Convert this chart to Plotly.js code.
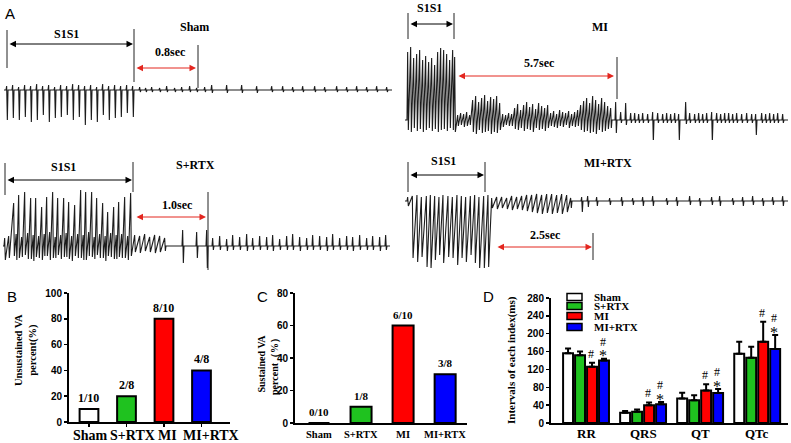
<!DOCTYPE html>
<html><head><meta charset="utf-8">
<script src="https://cdn.plot.ly/plotly-3.0.1.min.js"></script>
<style>html,body{margin:0;padding:0;background:#fff;}#chart{width:791px;height:443px;}</style>
</head><body><div id="chart"></div>
<script>
// ---------------- data ----------------
const groups = ['Sham', 'S+RTX', 'MI', 'MI+RTX'];
const unsustainedPct = [10, 20, 80, 40];
const unsustainedLabel = ['1/10', '2/8', '8/10', '4/8'];
const sustainedPct = [0, 10, 60, 30];
const sustainedLabel = ['0/10', '1/8', '6/10', '3/8'];

const indices = ['RR', 'QRS', 'QT', 'QTc'];
const shamMean = [156, 23, 55, 155];
const shamErr = [11, 4, 13, 27];
const srtxMean = [152, 25, 51, 146];
const srtxErr = [8, 5, 11, 25];
const miMean = [126, 40, 73, 182];
const miErr = [9, 6, 14, 45];
const mirtxMean = [140, 42, 67, 166];
const mirtxErr = [4, 5, 9, 31];

// ECG beats: position along trace, upward and downward deflection
const shamT = [7,13,19,25,31,37,43,49,55,61,67,73,79,85,91,97,103,109,115,121,127,133,
  140,146,152,160,167,175,182,190,197,205,212,227,242,257,272,283,293,303,315,325,337,347,357,367,377,387];
const shamUp = [4,5,3,5,4,6,4,5,3,5,4,6,5,4,5,3,6,4,5,4,5,4,
  3,2,3,2,4,2,3,4,2,3,5,5,5,4,4,4,3,4,4,3,4,3,4,3,4,3];
const shamDown = [30,28,30,27,32,30,25,32,28,27,25,30,27,35,30,32,25,30,28,27,23,27,
  2,2,2,2,2,2,2,2,2,2,3,3,3,3,2,2,2,2,2,2,2,2,2,2,2,2];

const miT = [8,11,14,17,20,23,26,29,32,35,38,41,44,47,50,53,55,
  58,61,64,67,70,73,76,79,82,85,88,91,94,97,100,103,106,109,112,115,118,121,124,127,130,133,136,139,142,145,148,
  151,154,157,160,163,166,169,172,175,178,181,184,187,190,193,196,199,202,205,208,211,
  216,221,226,231,235,239,243,248,253,258,263,267,271,275,279,286,290,295,299,303,307,312,317,321,325,329,333,337,342,347,352,356,362,366,370,374,378,383];
const miUp = [68,73,62,66,70,60,64,58,62,55,68,72,70,66,60,70,63,
  5,7,6,8,5,20,24,18,22,25,19,23,21,24,17,6,5,7,6,12,16,10,15,18,13,16,11,17,14,12,15,
  7,9,6,10,8,7,9,6,8,10,15,19,22,17,24,20,16,22,18,14,12,
  18,8,17,7,7,6,7,6,8,7,6,7,6,7,6,18,7,6,7,6,7,8,7,6,7,7,6,7,6,7,6,6,7,6,7,6,7,6];
const miDown = [10,12,8,11,9,12,10,8,11,9,12,10,9,11,8,10,12,
  6,5,7,6,5,12,14,10,13,12,11,14,12,13,10,7,5,6,6,9,10,8,11,9,10,12,8,10,9,11,8,
  6,7,8,6,7,5,8,6,7,6,10,12,11,13,12,14,10,12,11,9,8,
  13,3,5,3,3,3,3,3,22,3,3,3,3,3,20,4,3,3,3,3,3,22,3,3,3,3,3,3,3,3,3,15,3,3,3,3,3,3];

const srtxT = [5,14,19,25,31,36,42,47,53,58,64,69,75,81,86,92,97,103,108,114,119,125,131,
  135,140,145,150,155,160,165,183,197,207,
  213,220,227,233,240,247,253,260,267,273,280,287,293,300,307,313,320,327,333,340,347,353,360,367,373,380,386];
const srtxUp = [8,43,51,54,48,48,39,49,54,48,48,44,41,56,54,54,48,43,34,39,44,49,53,
  11,10,12,9,11,10,8,16,14,16,
  8,10,7,11,9,12,8,10,9,11,7,10,12,9,8,11,10,9,12,8,10,9,11,8,10,9,11];
const srtxDown = [14,10,12,9,13,11,14,10,12,9,11,13,10,12,14,11,9,12,10,13,11,12,10,
  6,7,5,6,7,6,5,17,12,22,
  4,4,5,4,4,5,4,4,4,5,4,4,4,5,4,4,4,5,4,4,4,5,4,4,4,5,4];
// slow waves between the paced S+RTX spikes
const srtxWaveT = [9,16.5,22,28,33.5,39,44.5,50,55.5,61,66.5,72,78,83.5,89,94.5,100,105.5,111,116.5,122,128];
const srtxWaveUp = [10,12,9,13,11,10,12,14,9,11,13,10,12,11,14,9,12,10,13,11,12,10];
const srtxWaveDown = [12,14,11,13,15,12,10,14,12,13,11,15,12,14,10,13,12,15,11,13,12,14];

const mirtxT = [8,12.7,17.3,21.7,26.7,30.7,35,39.3,43.3,48.3,52.7,57.3,61.7,66,70.7,75,79.3,84,88.3,
  92,97,102,107,112,117,122,127,132,137,142,147,152,157,162,167,171,
  182,188,197,210,222,233,243,253,267,277,290,300,312,320,333,343,353,363,373,383];
const mirtxUp = [4,5,6,4,5,6,5,4,6,5,4,6,5,4,5,6,4,5,6,
  3,4,4,3,5,4,5,6,6,7,6,7,7,6,7,6,3,
  4,5,4,3,4,3,4,5,3,4,5,3,4,5,3,4,5,3,4,5];
const mirtxDown = [5,57,61,56,66,67,59,54,62,56,57,64,57,61,54,62,67,67,66,
  7,8,7,8,9,8,9,10,11,12,13,12,13,12,13,11,7,
  11,6,5,4,5,4,5,5,4,5,4,5,4,5,4,5,4,5,4,5];

// ---------------- helpers ----------------
const W = 791, H = 443;
const X = p => p / W;
const Y = p => 1 - p / H;
const serifB = 'Liberation Serif';
const sansF = 'Liberation Sans';

// sets: list of [t, up, down]; beats closer than `joinGap` are joined as a continuous zig-zag
function ecgTrace(sets, start, end, joinGap, xa, ya) {
  const beats = [];
  sets.forEach(s => {
    const n = Math.min(s[0].length, s[1].length, s[2].length);
    for (let i = 0; i < n; i++) beats.push([s[0][i], s[1][i], s[2][i]]);
  });
  beats.sort((a, b) => a[0] - b[0]);
  const xs = [start], ys = [0];
  for (let i = 0; i < beats.length; i++) {
    const [t, u, d] = beats[i];
    const prevGap = i > 0 ? t - beats[i - 1][0] : 99;
    const nextGap = i < beats.length - 1 ? beats[i + 1][0] - t : 99;
    if (prevGap >= joinGap) { xs.push(t - 1); ys.push(0); }
    xs.push(t - 0.35, t + 0.35); ys.push(u, -d);
    if (nextGap >= joinGap) { xs.push(t + 1); ys.push(0); }
  }
  xs.push(end); ys.push(0);
  return {type: 'scatter', mode: 'lines', x: xs, y: ys, xaxis: xa, yaxis: ya,
    line: {color: '#1c1c1c', width: 1.1}, hoverinfo: 'skip', showlegend: false};
}

const traces = [
  ecgTrace([[shamT, shamUp, shamDown]], 4, 392, 0, 'x', 'y'),
  ecgTrace([[miT, miUp, miDown]], 5, 388, 3.5, 'x2', 'y2'),
  ecgTrace([[srtxT, srtxUp, srtxDown], [srtxWaveT, srtxWaveUp, srtxWaveDown]], 3, 390, 5.5, 'x3', 'y3'),
  ecgTrace([[mirtxT, mirtxUp, mirtxDown]], 5, 388, 5.5, 'x4', 'y4')
];

const barColors = ['#ffffff', '#1fc21f', '#ff0000', '#0000ff'];
const blackLine = {color: '#000', width: 2};

traces.push({type: 'bar', x: groups, y: unsustainedPct, width: 0.5, xaxis: 'x5', yaxis: 'y5',
  marker: {color: barColors, line: blackLine}, showlegend: false, hoverinfo: 'skip'});
traces.push({type: 'bar', x: groups, y: sustainedPct, width: 0.5, xaxis: 'x6', yaxis: 'y6',
  marker: {color: barColors, line: blackLine}, showlegend: false, hoverinfo: 'skip'});

const dSeries = [[shamMean, shamErr], [srtxMean, srtxErr], [miMean, miErr], [mirtxMean, mirtxErr]];
dSeries.forEach((s, i) => {
  traces.push({type: 'bar', name: groups[i], x: indices, y: s[0], xaxis: 'x7', yaxis: 'y7',
    marker: {color: barColors[i], line: blackLine},
    error_y: {type: 'data', symmetric: false, array: s[1], arrayminus: s[1].map(() => 0),
      color: '#000', thickness: 2, width: 3},
    showlegend: false, hoverinfo: 'skip'});
});

// ---------------- layout ----------------
function hidden(domain, range, anchor) {
  return {domain: domain, range: range, anchor: anchor, visible: false, fixedrange: true};
}
const tickFont = {family: sansF, size: 10, color: '#000', weight: 'bold'};
function barY(domain, range, dtick, anchor) {
  return {domain: domain, range: range, anchor: anchor, showline: true, linecolor: '#000', linewidth: 2,
    ticks: 'outside', ticklen: 3, tickwidth: 1.5, tickcolor: '#000', dtick: dtick, tick0: 0,
    showgrid: false, zeroline: false, tickfont: tickFont, fixedrange: true};
}
function barX(domain, range, anchor, tickMarks) {
  return {domain: domain, range: range, anchor: anchor, type: 'category', showline: true, linecolor: '#000',
    linewidth: 2, ticks: tickMarks ? 'outside' : '', ticklen: 3, tickwidth: 1.5, tickcolor: '#000',
    showgrid: false, zeroline: false, showticklabels: false, fixedrange: true};
}

const ann = [];
const shapes = [];
function txt(x, y, text, size, family, extra) {
  ann.push(Object.assign({xref: 'paper', yref: 'paper', x: X(x), y: Y(y), text: text, showarrow: false,
    xanchor: 'center', yanchor: 'middle', font: {family: family || serifB, size: size, color: '#000'}}, extra || {}));
}
function vline(x, y0, y1) {
  shapes.push({type: 'line', xref: 'paper', yref: 'paper', x0: X(x), x1: X(x), y0: Y(y0), y1: Y(y1),
    line: {color: '#222', width: 1}});
}
function darrow(x1, x2, y, color) {
  ann.push({xref: 'paper', yref: 'paper', x: X(x2), y: Y(y), ax: -(x2 - x1), ay: 0, text: '',
    showarrow: true, arrowside: 'end+start', arrowhead: 2, startarrowhead: 2, arrowsize: 1.3, startarrowsize: 1.3,
    arrowwidth: 1, arrowcolor: color, standoff: 0, startstandoff: 0});
}
function catLabel(xref, cat, y, text, size, xshift) {
  ann.push({xref: xref, yref: 'paper', x: cat, y: Y(y), text: '<b>' + text + '</b>', showarrow: false,
    xshift: xshift || 0, xanchor: 'center', yanchor: 'middle', font: {family: serifB, size: size, color: '#000'}});
}

// Panel A annotations
txt(10, 13, 'A', 15, sansF);
// Sham
vline(7, 30, 68); vline(134, 29, 82); darrow(8, 133, 44, '#000');
txt(66, 34, '<b>S1S1</b>', 12); txt(194, 27, '<b>Sham</b>', 12);
txt(170, 52, '<b>0.8sec</b>', 12); darrow(135, 196, 68, '#e3261f'); vline(198, 45, 88);
// MI
vline(408, 13, 39); vline(454, 13, 39); darrow(409, 453, 24, '#000');
txt(429, 8, '<b>S1S1</b>', 12); txt(600, 27, '<b>MI</b>', 12);
txt(539, 63, '<b>5.7sec</b>', 12); darrow(457, 614, 76, '#e3261f'); vline(617, 57, 99);
// S+RTX
vline(5, 163, 195); vline(133, 162, 192); darrow(6, 132, 180, '#000');
txt(63, 167, '<b>S1S1</b>', 12); txt(195, 165, '<b>S+RTX</b>', 12);
txt(177, 205, '<b>1.0sec</b>', 12); darrow(135, 206, 217, '#e3261f'); vline(208, 192, 270);
// MI+RTX
vline(408, 162, 192); vline(485, 162, 192); darrow(409, 484, 175, '#000');
txt(443, 161, '<b>S1S1</b>', 12); txt(608, 163, '<b>MI+RTX</b>', 12);
txt(545, 235, '<b>2.5sec</b>', 12); darrow(496, 592, 247, '#e3261f'); vline(593, 233, 260);

// Panel B
txt(12, 296, 'B', 15, sansF);
txt(26, 350, '<b>Unsustained VA<br>percent(%)</b>', 10.5, serifB, {textangle: -90});
const bLabelPos = [0.03, 1.15, 2.09, 3.25];
groups.forEach((g, i) => {
  catLabel('x5', bLabelPos[i], 435, g, 14);
  ann.push({xref: 'x5', yref: 'y5', x: g, y: unsustainedPct[i], text: '<b>' + unsustainedLabel[i] + '</b>',
    showarrow: false, xanchor: 'center', yanchor: 'bottom', yshift: 2,
    font: {family: serifB, size: 12, color: '#000'}});
});

// Panel C
txt(262, 296, 'C', 15, sansF);
txt(268, 364, '<b>Sustained VA<br>percent（%）</b>', 10, serifB, {textangle: -90});
groups.forEach((g, i) => {
  catLabel('x6', g, 434, g, 10.5);
  ann.push({xref: 'x6', yref: 'y6', x: g, y: sustainedPct[i], text: '<b>' + sustainedLabel[i] + '</b>',
    showarrow: false, xanchor: 'center', yanchor: 'bottom', yshift: 3,
    font: {family: serifB, size: 11, color: '#000'}});
});

// Panel D
txt(488, 296, 'D', 15, sansF);
txt(511, 360, '<b>Intervals of each index(ms)</b>', 11, serifB, {textangle: -90});
indices.forEach((c, k) => {
  catLabel('x7', c, 433, c, 13);
  ann.push({xref: 'x7', yref: 'y7', x: c, y: miMean[k] + miErr[k], text: '#', showarrow: false,
    xshift: 5, yshift: 9, xanchor: 'center', yanchor: 'middle', font: {family: serifB, size: 12, color: '#000'}});
  ann.push({xref: 'x7', yref: 'y7', x: c, y: mirtxMean[k] + mirtxErr[k], text: '#', showarrow: false,
    xshift: 17, yshift: 17, xanchor: 'center', yanchor: 'middle', font: {family: serifB, size: 12, color: '#000'}});
  ann.push({xref: 'x7', yref: 'y7', x: c, y: mirtxMean[k] + mirtxErr[k], text: '*', showarrow: false,
    xshift: 17, yshift: 3, xanchor: 'center', yanchor: 'middle', font: {family: serifB, size: 16, color: '#000'}});
});
// legend for D
const legY = [297, 306, 316, 327];
groups.forEach((g, i) => {
  shapes.push({type: 'rect', xref: 'paper', yref: 'paper', x0: X(567), x1: X(582), y0: Y(legY[i] + 3.5), y1: Y(legY[i] - 3.5),
    fillcolor: barColors[i], line: {color: '#000', width: 1.5}});
  ann.push({xref: 'paper', yref: 'paper', x: X(592), y: Y(legY[i]), text: '<b>' + g + '</b>', showarrow: false,
    xanchor: 'left', yanchor: 'middle', font: {family: serifB, size: 11, color: '#000'}});
});

const layout = {
  width: W, height: H, autosize: false,
  margin: {l: 0, r: 0, t: 0, b: 0, pad: 0},
  paper_bgcolor: '#fff', plot_bgcolor: 'rgba(0,0,0,0)',
  showlegend: false,
  barmode: 'group', bargap: 0.16, bargroupgap: 0.17,
  xaxis: hidden([0, X(395)], [0, 395], 'y'),
  yaxis: hidden([Y(140), 1], [-50, 90], 'x'),
  xaxis2: hidden([X(400), 1], [0, 391], 'y2'),
  yaxis2: hidden([Y(140), 1], [-20, 120], 'x2'),
  xaxis3: hidden([0, X(395)], [0, 395], 'y3'),
  yaxis3: hidden([Y(280), Y(140)], [-34, 106], 'x3'),
  xaxis4: hidden([X(400), 1], [0, 391], 'y4'),
  yaxis4: hidden([Y(280), Y(140)], [-79, 61], 'x4'),
  xaxis5: barX([X(69), X(230)], [-0.533, 3.76], 'y5', true),
  yaxis5: barY([Y(422), Y(293)], [0, 100], 20, 'x5'),
  xaxis6: barX([X(295), X(467)], [-0.571, 3.52], 'y6', false),
  yaxis6: barY([Y(423), Y(293)], [0, 80], 20, 'x6'),
  xaxis7: barX([X(551), X(788)], [-0.614, 3.54], 'y7', false),
  yaxis7: barY([Y(423), Y(298)], [0, 280], 40, 'x7'),
  annotations: ann,
  shapes: shapes
};

Plotly.newPlot('chart', traces, layout, {staticPlot: true, displayModeBar: false});
</script>
</body></html>
